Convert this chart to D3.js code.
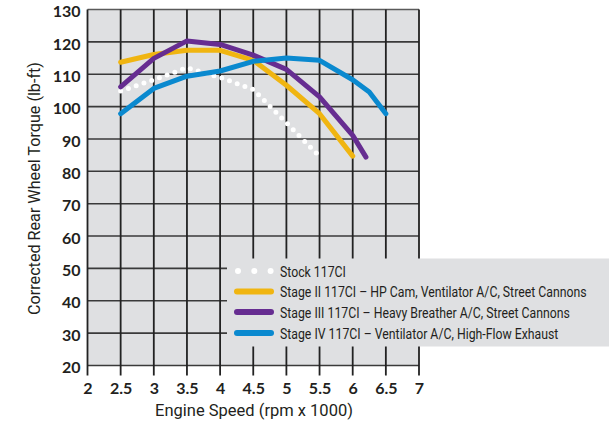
<!DOCTYPE html>
<html>
<head>
<meta charset="utf-8">
<script src="https://cdn.jsdelivr.net/npm/d3@7"></script>
<style>
html,body{margin:0;padding:0;background:#fff;}
svg{display:block;}
</style>
</head>
<body>
<svg id="chart" width="609" height="423"></svg>
<script>
// ---- data ----
const xTicks = [2, 2.5, 3, 3.5, 4, 4.5, 5, 5.5, 6, 6.5, 7];
const yTicks = [20, 30, 40, 50, 60, 70, 80, 90, 100, 110, 120, 130];

const stockRpm    = [2.5, 3, 3.5, 4, 4.5, 5, 5.5];
const stockTorque = [104.8, 108.3, 112, 109, 105.3, 95, 84.6];

const stage2Rpm    = [2.5, 3, 3.5, 4, 4.5, 5, 5.5, 6];
const stage2Torque = [113.7, 116.1, 117.4, 117.4, 114.3, 106.6, 97.8, 84.7];

const stage3Rpm    = [2.5, 3, 3.5, 4, 4.5, 5, 5.5, 6, 6.2];
const stage3Torque = [106.1, 114.9, 120.3, 119.2, 115.9, 111.5, 103, 91.1, 84.4];

const stage4Rpm    = [2.5, 3, 3.5, 4, 4.5, 5, 5.5, 6, 6.25, 6.5];
const stage4Torque = [97.8, 105.6, 109.4, 111, 114, 115, 114.3, 108.3, 104.5, 97.8];

const seriesNames = [
  "Stock 117CI",
  "Stage II 117CI – HP Cam, Ventilator A/C, Street Cannons",
  "Stage III 117CI – Heavy Breather A/C, Street Cannons",
  "Stage IV 117CI – Ventilator A/C, High-Flow Exhaust"
];
const seriesColors = ["#ffffff", "#f0b511", "#662d91", "#0a89cf"];

const series = [
  {name: seriesNames[0], color: seriesColors[0], dotted: true,  data: stockRpm.map((x,i)=>[x, stockTorque[i]])},
  {name: seriesNames[1], color: seriesColors[1], dotted: false, data: stage2Rpm.map((x,i)=>[x, stage2Torque[i]])},
  {name: seriesNames[2], color: seriesColors[2], dotted: false, data: stage3Rpm.map((x,i)=>[x, stage3Torque[i]])},
  {name: seriesNames[3], color: seriesColors[3], dotted: false, data: stage4Rpm.map((x,i)=>[x, stage4Torque[i]])}
];

// ---- layout ----
const svg = d3.select("#chart");
const pL = 87.5, pR = 419, pT = 9.5, pB = 365.5;
const x = d3.scaleLinear().domain([2, 7]).range([pL, pR]);
const y = d3.scaleLinear().domain([20, 130]).range([pB, pT]);
const bg = "#dfe0e2";
const ink = "#231f20";
const fontNum = "Lato, 'Open Sans', sans-serif";
const fontTxt = "Roboto, 'Open Sans', sans-serif";

function fit(sel, target) {
  const fs = parseFloat(sel.attr("font-size"));
  const w = sel.node().getComputedTextLength();
  if (w > 0) sel.attr("font-size", (fs * target / w).toFixed(2));
}

svg.append("rect").attr("x", pL).attr("y", pT)
  .attr("width", pR-pL).attr("height", pB-pT).attr("fill", bg);

// horizontal grid
svg.append("g").selectAll("line").data(yTicks).join("line")
  .attr("x1", pL).attr("x2", pR)
  .attr("y1", d=>y(d)).attr("y2", d=>y(d))
  .attr("stroke", d => d === 130 ? "#5a5a5a" : "#3a3a3a").attr("stroke-width", 1.6);

// vertical grid (with tick extension below)
svg.append("g").selectAll("line").data(xTicks).join("line")
  .attr("x1", d=>x(d)).attr("x2", d=>x(d))
  .attr("y1", pT).attr("y2", pB + 10)
  .attr("stroke", "#222").attr("stroke-width", 1.8);

// axes labels via d3 axes
const yAxis = svg.append("g").attr("transform", `translate(${pL},0)`)
  .call(d3.axisLeft(y).tickValues(yTicks).tickSize(0).tickPadding(7));
yAxis.select(".domain").remove();
yAxis.selectAll("text").attr("font-family", fontNum).attr("font-weight", 700)
  .attr("font-size", 16).attr("dy", "0.45em").attr("fill", ink);

const xAxis = svg.append("g").attr("transform", `translate(0,${pB})`)
  .call(d3.axisBottom(x).tickValues(xTicks).tickSize(0).tickPadding(17)
    .tickFormat(d=>String(d)));
xAxis.select(".domain").remove();
xAxis.selectAll("text").attr("font-family", fontNum).attr("font-weight", 700)
  .attr("font-size", 16).attr("fill", ink);

// lines
const line = d3.line().x(d=>x(d[0])).y(d=>y(d[1]));
const linesG = svg.append("g");
const stock = series[0];
linesG.append("path").datum(stock.data).attr("d", line)
  .attr("fill", "none").attr("stroke", stock.color).attr("stroke-width", 5)
  .attr("stroke-linecap", "round").attr("stroke-dasharray", "0 8.2");
series.filter(s=>!s.dotted).forEach(s=>{
  linesG.append("path").datum(s.data).attr("d", line)
    .attr("fill", "none").attr("stroke", s.color).attr("stroke-width", 5)
    .attr("stroke-linecap", "round").attr("stroke-linejoin", "round");
});

// legend
const lg = svg.append("g");
lg.append("rect").attr("x", 227).attr("y", 258.5).attr("width", 609-227).attr("height", 88)
  .attr("fill", bg);
const rowY = [271, 291.5, 312, 333];
const texts = [];
series.forEach((s, i)=>{
  if (s.dotted) {
    lg.append("line").attr("x1", 238).attr("x2", 271).attr("y1", rowY[i]).attr("y2", rowY[i])
      .attr("stroke", s.color).attr("stroke-width", 6).attr("stroke-linecap", "round")
      .attr("stroke-dasharray", "0 16.3");
  } else {
    lg.append("line").attr("x1", 237).attr("x2", 271).attr("y1", rowY[i]).attr("y2", rowY[i])
      .attr("stroke", s.color).attr("stroke-width", 6).attr("stroke-linecap", "round");
  }
  texts.push(lg.append("text").attr("x", 0).attr("y", 0).attr("dy", "0.36em")
    .attr("transform", `translate(280,${rowY[i]})`)
    .attr("font-family", fontTxt).attr("font-size", 15.5).attr("fill", ink)
    .text(s.name));
});
// condense legend horizontally so the longest entry spans like the reference
{
  const w = texts[1].node().getComputedTextLength();
  const sx = Math.min(1, 307 / w);
  texts.forEach((t, i) => t.attr("transform", `translate(280,${rowY[i]}) scale(${sx.toFixed(4)},1)`));
}

// axis titles
const xt = svg.append("text").attr("x", 254).attr("y", 416)
  .attr("text-anchor", "middle").attr("font-family", fontTxt).attr("font-size", 15.5)
  .attr("fill", ink).text("Engine Speed (rpm x 1000)");
fit(xt, 198);
const yt = svg.append("text").attr("transform", `translate(40,188.5) rotate(-90)`)
  .attr("text-anchor", "middle").attr("font-family", fontTxt).attr("font-size", 15.5)
  .attr("fill", ink).text("Corrected Rear Wheel Torque (lb-ft)");
fit(yt, 253);
</script>
</body>
</html>
